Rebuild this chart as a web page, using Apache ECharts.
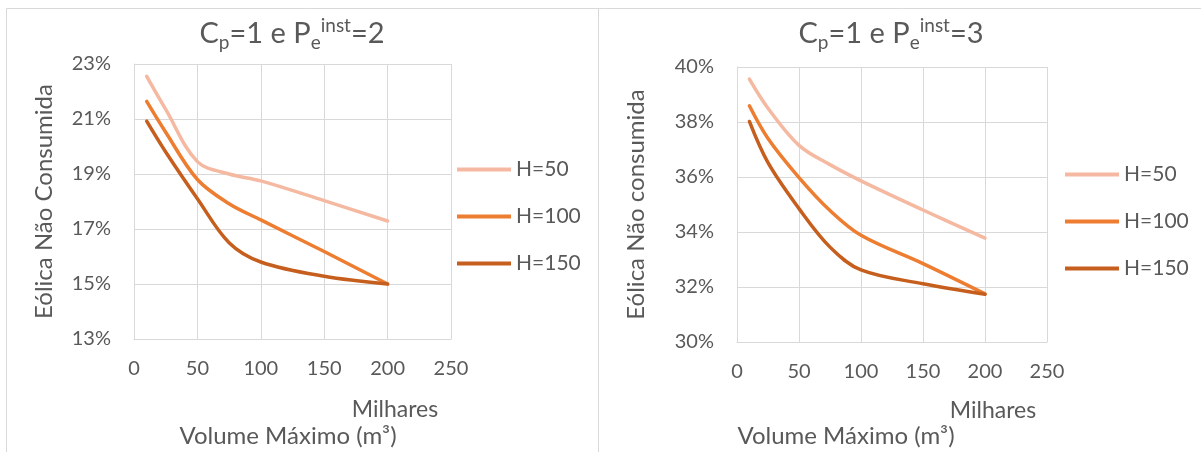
<!DOCTYPE html>
<html>
<head>
<meta charset="utf-8">
<title>Eólica Não Consumida</title>
<script src="https://cdn.jsdelivr.net/npm/echarts@6/dist/echarts.min.js"></script>
<style>
  html, body { margin: 0; padding: 0; background: #ffffff; }
  #chart { width: 1201px; height: 452px; }
</style>
</head>
<body>
<div id="chart"></div>
<script>
// Maximum storage volume (thousands of m³)
const volumes = [10, 25, 50, 75, 100, 150, 200];

// Unconsumed wind energy (%), Cp = 1 and installed power = 2
const h50P2 = [22.55, 21.35, 19.45, 19.0, 18.75, 18.03, 17.29];
const h100P2 = [21.64, 20.52, 18.8, 17.92, 17.33, 16.18, 15.0];
const h150P2 = [20.92, 19.8, 18.1, 16.5, 15.8, 15.28, 15.0];

// Unconsumed wind energy (%), Cp = 1 and installed power = 3
const h50P3 = [39.56, 38.5, 37.15, 36.45, 35.86, 34.8, 33.78];
const h100P3 = [38.59, 37.4, 35.98, 34.78, 33.88, 32.85, 31.75];
const h150P3 = [38.02, 36.52, 34.85, 33.45, 32.62, 32.12, 31.74];

const seriesNames = ['H=50', 'H=100', 'H=150'];
const xTicks = { min: 0, max: 250, interval: 50 };
const yTicksP2 = { min: 13, max: 23, interval: 2 };
const yTicksP3 = { min: 30, max: 40, interval: 2 };

const FONT = 'Lato, "Open Sans", sans-serif';
const TEXT = '#595959';
const GRID_LINE = '#D9D9D9';
const COLORS = ['#F5B9A1', '#ED7D31', '#C65F1E'];

const pair = (ys) => volumes.map((x, i) => [x, ys[i]]);

const titleRich = {
  m: { fontSize: 29, lineHeight: 36, color: TEXT, fontFamily: FONT, fontWeight: 'normal' },
  sub: { fontSize: 19, lineHeight: 19, color: TEXT, fontFamily: FONT, fontWeight: 'normal', verticalAlign: 'bottom' },
  sup: { fontSize: 19, lineHeight: 19, color: TEXT, fontFamily: FONT, fontWeight: 'normal', verticalAlign: 'top' }
};

function xAxisFor(gridIndex) {
  return {
    type: 'value', gridIndex,
    min: xTicks.min, max: xTicks.max, interval: xTicks.interval,
    axisLine: { show: true, lineStyle: { color: GRID_LINE, width: 1 } },
    axisTick: { show: false },
    splitLine: { show: true, lineStyle: { color: GRID_LINE, width: 1 } },
    axisLabel: { color: TEXT, fontSize: 20, fontFamily: FONT, margin: 20 }
  };
}

function yAxisFor(gridIndex, ticks, name, gap) {
  return {
    type: 'value', gridIndex,
    min: ticks.min, max: ticks.max, interval: ticks.interval,
    name, nameLocation: 'middle', nameGap: gap, nameRotate: 90,
    nameTextStyle: { color: TEXT, fontSize: 24, fontFamily: FONT },
    axisLine: { show: true, lineStyle: { color: GRID_LINE, width: 1 } },
    axisTick: { show: false },
    splitLine: { show: true, lineStyle: { color: GRID_LINE, width: 1 } },
    axisLabel: { color: TEXT, fontSize: 20, fontFamily: FONT, margin: 23, formatter: '{value}%' }
  };
}

function lineSeries(name, ys, idx, colorIdx) {
  return {
    type: 'line', name,
    xAxisIndex: idx, yAxisIndex: idx,
    data: pair(ys),
    smooth: 0.35,
    symbol: 'none',
    lineStyle: { color: COLORS[colorIdx], width: 3.5, cap: 'round', join: 'round' },
    itemStyle: { color: COLORS[colorIdx] },
    emphasis: { disabled: true },
    animation: false
  };
}

function legendAt(left, top) {
  return {
    orient: 'vertical', left, top,
    icon: 'rect',
    itemWidth: 54, itemHeight: 4, itemGap: 26,
    data: seriesNames,
    textStyle: { color: TEXT, fontSize: 21, fontFamily: FONT },
    selectedMode: false
  };
}

function plainText(x, y, text, size) {
  return {
    type: 'text', x, y,
    style: { text, fill: TEXT, font: size + 'px ' + FONT, align: 'center', verticalAlign: 'middle' },
    silent: true
  };
}

const chart = echarts.init(document.getElementById('chart'), null, { renderer: 'canvas' });

chart.setOption({
  animation: false,
  backgroundColor: '#ffffff',
  title: [
    {
      text: '{m|C}{sub|p}{m|=1 e P}{sub|e}{sup|inst}{m|=2}',
      left: 287, top: 11, textAlign: 'center',
      textStyle: { fontWeight: 'normal', rich: titleRich }
    },
    {
      text: '{m|C}{sub|p}{m|=1 e P}{sub|e}{sup|inst}{m|=3}',
      left: 886, top: 11, textAlign: 'center',
      textStyle: { fontWeight: 'normal', rich: titleRich }
    }
  ],
  legend: [legendAt(452, 154), legendAt(1060, 159)],
  grid: [
    { left: 134, top: 64, width: 317, height: 275, containLabel: false },
    { left: 737, top: 67, width: 310, height: 275, containLabel: false }
  ],
  xAxis: [xAxisFor(0), xAxisFor(1)],
  yAxis: [
    yAxisFor(0, yTicksP2, 'Eólica Não Consumida', 78),
    yAxisFor(1, yTicksP3, 'Eólica Não consumida', 89)
  ],
  series: [
    lineSeries(seriesNames[0], h50P2, 0, 0),
    lineSeries(seriesNames[1], h100P2, 0, 1),
    lineSeries(seriesNames[2], h150P2, 0, 2),
    lineSeries(seriesNames[0], h50P3, 1, 0),
    lineSeries(seriesNames[1], h100P3, 1, 1),
    lineSeries(seriesNames[2], h150P3, 1, 2)
  ],
  graphic: [
    // chart frames
    {
      type: 'polyline', silent: true,
      shape: { points: [[6.5, 452], [6.5, 8.5], [1201, 8.5]] },
      style: { stroke: GRID_LINE, lineWidth: 1, fill: null }
    },
    {
      type: 'line', silent: true,
      shape: { x1: 598.5, y1: 8.5, x2: 598.5, y2: 452 },
      style: { stroke: GRID_LINE, lineWidth: 1 }
    },
    // display-unit and axis titles
    plainText(395, 410, 'Milhares', 23),
    plainText(288, 436, 'Volume Máximo (m³)', 24),
    plainText(993, 411, 'Milhares', 23),
    plainText(846, 436, 'Volume Máximo (m³)', 24)
  ]
});
</script>
</body>
</html>
